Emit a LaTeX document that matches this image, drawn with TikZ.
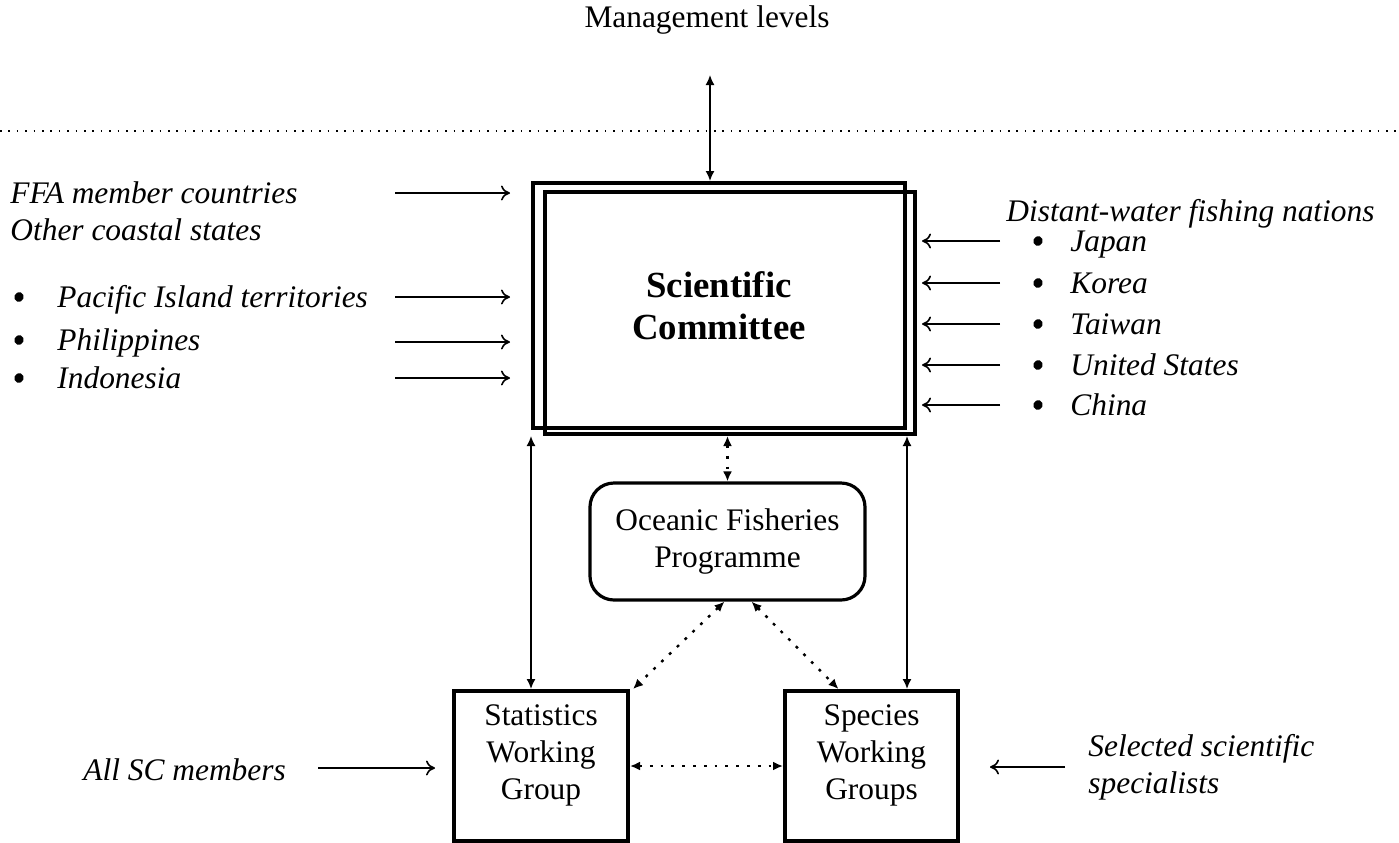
\documentclass[tikz,border=0pt]{standalone}
\usepackage{fontspec}
\setmainfont{Liberation Serif}
\usetikzlibrary{shapes}
\usetikzlibrary{arrows}
\usetikzlibrary{arrows.meta}
\usetikzlibrary{positioning}

\newcommand{\figsize}{\fontsize{15.7}{18.5}\selectfont}
\newcommand{\scsize}{\fontsize{18.4}{21}\selectfont}

\tikzset{
  box/.style={draw, line width=2pt, align=center, inner sep=0pt, font=\figsize},
  wgbox/.style={box, minimum height=75pt},
  wgtext/.style={align=center, inner sep=0pt, font=\figsize},
  lbl/.style={anchor=west, inner sep=0pt, font=\figsize\itshape, text height=0.72em, text depth=0.22em, yshift=-2.5pt},
  dot/.style={ellipse, fill, inner sep=0pt, minimum width=4.6pt, minimum height=5pt, rotate=-20},
  feed/.style={-{To[length=4.5pt,width=7.5pt]}, line width=0.8pt},
  link/.style={{Latex[length=5pt,width=4.5pt]}-{Latex[length=5pt,width=4.5pt]}, line width=0.8pt},
  dlink/.style={{Latex[length=5pt,width=4.5pt]}-{Latex[length=5pt,width=4.5pt]}, line width=1.2pt, dash pattern=on 1.4pt off 4pt},
}

\begin{document}
\begin{tikzpicture}[x=0.5pt, y=-0.5pt]
        \useasboundingbox (0,0) rectangle (1399,842);

        % committee box and its offset copy
        \node (sc) [box, minimum width=186pt, minimum height=122.5pt, font=\scsize\bfseries] at (719,305.5) {Scientific\\Committee};
        \node (scs) [box, minimum width=185pt, minimum height=121pt] at (730,313) {};

        \node (ofp) [box, rounded corners=12pt, line width=1.6pt, minimum width=137.5pt, minimum height=58.5pt] at (727.5,541.5) {Oceanic Fisheries\\Programme};
        \node (stat) [wgbox, minimum width=87pt] at (541,766) {};
        \node (spec) [wgbox, minimum width=86.5pt] at (871.5,766) {};
        \node (statt) [wgtext] at (541,755) {Statistics\\Working\\Group};
        \node (spect) [wgtext] at (871.5,755) {Species\\Working\\Groups};

        % management level
        \node (mgmt) [font=\figsize, inner sep=0pt] at (707,20) {Management levels};
        \coordinate (mtop) at (710,75);
        \draw [line width=0.6pt, dash pattern=on 0.8pt off 3.4pt] (0,131) -- (1399,131);
        \draw [link] (mtop) -- (mtop |- sc.north);

        % left side members
        \node (ffa) [lbl] at (10,193) {FFA member countries};
        \node (ocs) [lbl] at (10,230) {Other coastal states};
        \foreach \y/\t [count=\i] in {297/Pacific Island territories,340/Philippines,378/Indonesia}{
            \node (lb\i) [dot] at (19,\y) {};
            \node (li\i) [lbl] at (57,\y) {\t};
        }
        \foreach \y in {193,297,342,378}
            \draw [feed, shorten >=10.5pt] (395,\y) -- (sc.west |- 0,\y);

        % right side members
        \node (dwf) [lbl] at (1006,211) {Distant-water fishing nations};
        \foreach \y/\t [count=\i] in {241/Japan,283/Korea,324/Taiwan,365/United States,405/China}{
            \node (rb\i) [dot] at (1038,\y) {};
            \node (ri\i) [lbl] at (1070,\y) {\t};
            \draw [feed, shorten >=2.5pt] (1000,\y) -- (scs.east |- 0,\y);
        }

        % working group members
        \node (all) [lbl] at (83,770) {All SC members};
        \draw [feed, shorten >=8.5pt] (318,768) -- (stat.west |- 0,768);
        \node (sel) [lbl, align=left, text height=, text depth=] at (1088,762) {Selected scientific\\specialists};
        \draw [feed, shorten >=15pt] (1065,767) -- (spec.east |- 0,767);

        % links between bodies
        \draw [link] (sc.west |- scs.south) -- (sc.west |- stat.north);
        \draw [link] (sc.east |- scs.south) -- (sc.east |- spec.north);
        \draw [dlink] (ofp.north |- scs.south) -- (ofp.north);
        \draw [dlink] ([xshift=-1.5pt]ofp.south) -- ([xshift=46pt]stat.north);
        \draw [dlink] ([xshift=12pt]ofp.south) -- ([xshift=-16.5pt]spec.north);
        \draw [dlink] (stat.east) -- (spec.west);
    \end{tikzpicture}
\end{document}
